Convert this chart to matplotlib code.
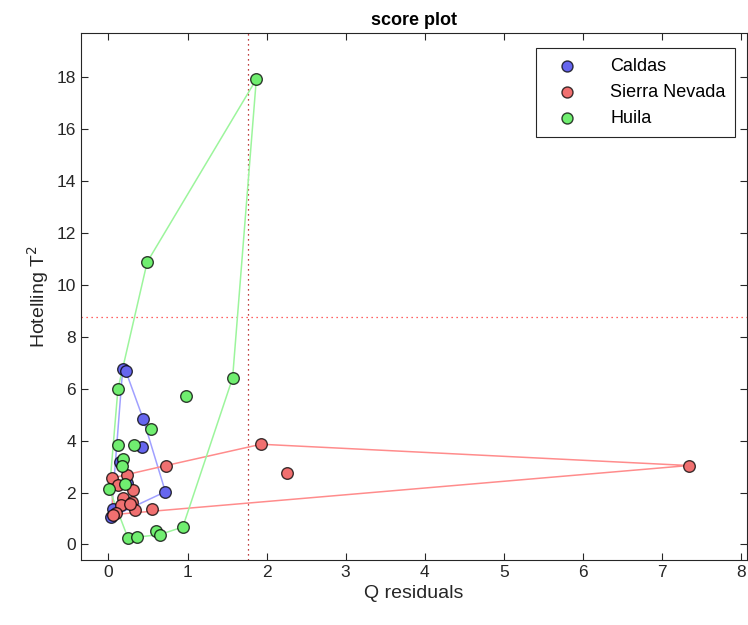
import numpy as np
import matplotlib
matplotlib.use("Agg")
import matplotlib.pyplot as plt

plt.rcParams['font.family'] = ['Liberation Sans', 'DejaVu Sans']

groups = ["Caldas", "Sierra Nevada", "Huila"]

caldas_q = [0.18, 0.22, 0.44, 0.43, 0.72, 0.034, 0.14, 0.24, 0.06]
caldas_t2 = [6.76, 6.67, 4.83, 3.76, 2.03, 1.05, 3.17, 2.35, 1.35]

sierra_q = [7.34, 1.93, 2.26, 0.73, 0.23, 0.04, 0.12, 0.31, 0.18, 0.30, 0.16, 0.34, 0.55, 0.10, 0.06, 0.27]
sierra_t2 = [3.04, 3.86, 2.74, 3.04, 2.69, 2.55, 2.30, 2.09, 1.80, 1.65, 1.50, 1.33, 1.37, 1.22, 1.15, 1.55]

huila_q = [1.87, 0.49, 1.57, 0.975, 0.12, 0.54, 0.127, 0.32, 0.18, 0.17, 0.21, 0.013, 0.245, 0.36, 0.60, 0.65, 0.94]
huila_t2 = [17.92, 10.88, 6.41, 5.73, 5.99, 4.45, 3.82, 3.82, 3.29, 3.01, 2.31, 2.12, 0.26, 0.28, 0.51, 0.38, 0.67]

q_limit = 1.77
t2_limit = 8.77

face_colors = ["#6666ee", "#f07070", "#70ee70"]
line_colors = ["#a0a0ff", "#ff8c8c", "#9cf59c"]


def convex_hull(xs, ys):
    pts = sorted(set(zip(xs, ys)))
    def cross(o, a, b):
        return (a[0]-o[0])*(b[1]-o[1]) - (a[1]-o[1])*(b[0]-o[0])
    lower, upper = [], []
    for p in pts:
        while len(lower) >= 2 and cross(lower[-2], lower[-1], p) <= 0:
            lower.pop()
        lower.append(p)
    for p in reversed(pts):
        while len(upper) >= 2 and cross(upper[-2], upper[-1], p) <= 0:
            upper.pop()
        upper.append(p)
    hull = lower[:-1] + upper[:-1]
    hull.append(hull[0])
    return [p[0] for p in hull], [p[1] for p in hull]


fig = plt.figure(figsize=(7.48, 6.25), dpi=100)
ax = fig.add_axes([0.108, 0.104, 0.89, 0.843])

data = [(caldas_q, caldas_t2), (sierra_q, sierra_t2), (huila_q, huila_t2)]

for (qx, ty), lc in zip(data, line_colors):
    hx, hy = convex_hull(qx, ty)
    ax.plot(hx, hy, color=lc, lw=1.1, zorder=2)

for (qx, ty), fc, name in zip(data, face_colors, groups):
    ax.scatter(qx, ty, s=70, facecolor=fc, edgecolor=(0, 0, 0, 0.75), linewidth=1.0,
               zorder=3, label=name)

ax.axvline(q_limit, color="#aa0000", ls=(0, (1, 3)), lw=0.9, zorder=1)
ax.axhline(t2_limit, color="#ff3333", ls=(0, (1, 3)), lw=0.9, zorder=1)

ax.set_xlim(-0.35, 8.07)
ax.set_ylim(-0.6, 19.7)
ax.set_xticks(range(0, 9))
ax.set_yticks(range(0, 19, 2))
ax.tick_params(direction="in", top=True, right=True, labelsize=12.5, colors="#262626",
               length=5, width=0.8)
for sp in ax.spines.values():
    sp.set_color("#262626")
    sp.set_linewidth(0.8)

ax.set_xlabel("Q residuals", fontsize=14, color="#262626")
ax.set_ylabel("Hotelling T$^2$", fontsize=14, color="#262626")
ax.set_title("score plot", fontsize=13, fontweight="bold", pad=6)

leg = ax.legend(loc="upper right", bbox_to_anchor=(0.997, 0.989), fontsize=13,
                fancybox=False, edgecolor="#262626", framealpha=1,
                handletextpad=1.25, borderpad=0.55, markerscale=0.95, handlelength=2.3,
                labelspacing=0.5)
leg.get_frame().set_linewidth(0.8)

fig.savefig("out.png", dpi=100)
